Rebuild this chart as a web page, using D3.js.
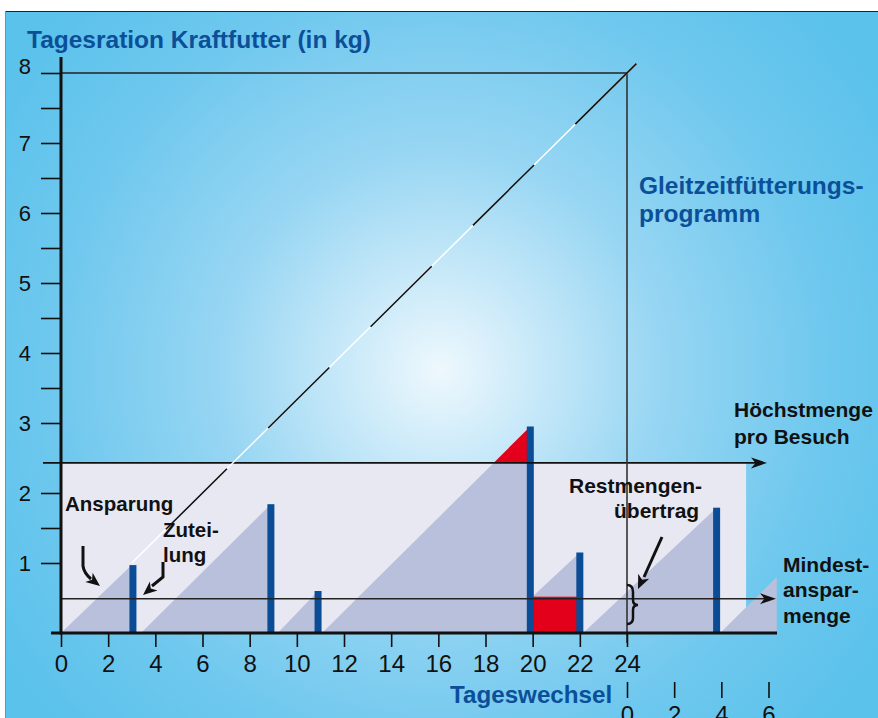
<!DOCTYPE html>
<html>
<head>
<meta charset="utf-8">
<script src="https://cdn.jsdelivr.net/npm/d3@7.9.0/dist/d3.min.js"></script>
<style>
  body { margin: 0; background: #fff; }
  svg { display: block; font-family: "Liberation Sans", Arial, sans-serif; }
</style>
</head>
<body>
<svg id="chart" width="878" height="718"></svg>
<script>
// hours of the day, and the first hours of the next day
const hourTicks = [0, 2, 4, 6, 8, 10, 12, 14, 16, 18, 20, 22, 24];
const nextDayTicks = [0, 2, 4, 6];
const kgTicks = [1, 2, 3, 4, 5, 6, 7, 8];
const kgMinorTicks = [1.5, 3.5, 4.5, 5.5, 6.5, 7.5];

const dailyRation = 8;      // kg per 24 h
const maxPerVisit = 2.43;   // Höchstmenge pro Besuch
const minSaving = 0.49;     // Mindestansparmenge
const panelEnd = 29.05;     // hour where the light panel stops

// saving ramps: start hour, end hour, kg at start, kg at end
const rampStart = [0, 3.39, 9.19, 11.07, 20.0, 22.14, 27.95];
const rampEnd   = [3.0, 8.9, 10.9, 19.9, 22.0, 27.8, 30.35];
const rampFrom  = [0, 0, 0, 0, 0.52, 0, 0];
const rampTo    = [0.97, 1.84, 0.6, 2.95, 1.15, 1.79, 0.8];

// visits at the feeder: hour and kg given out
const visitHour = [3.05, 8.9, 10.9, 19.9, 22.0, 27.8];
const visitKg   = [0.97, 1.84, 0.6, 2.95, 1.15, 1.79];

// carried over remainder after the 20 h visit
const carryStart = 20.0, carryEnd = 22.0, carryKg = 0.52;

const svg = d3.select('#chart');
const x = d3.scaleLinear().domain([0, 24]).range([61, 627]);
const y = d3.scaleLinear().domain([0, 8]).range([633, 73]);

const blue = '#0b4f98';
const barBlue = '#0a4d96';
const red = '#e2001a';

// background
const defs = svg.append('defs');
const grad = defs.append('radialGradient')
  .attr('id', 'bg')
  .attr('gradientUnits', 'userSpaceOnUse')
  .attr('cx', 440).attr('cy', 370).attr('r', 520);
grad.append('stop').attr('offset', 0).attr('stop-color', '#eef8fd');
grad.append('stop').attr('offset', 0.42).attr('stop-color', '#98d6f3');
grad.append('stop').attr('offset', 0.74).attr('stop-color', '#6fc8ee');
grad.append('stop').attr('offset', 1).attr('stop-color', '#5bc2eb');

svg.append('rect').attr('x', 5).attr('y', 11).attr('width', 873).attr('height', 707)
  .attr('fill', 'url(#bg)');
svg.append('line').attr('x1', 5).attr('x2', 878).attr('y1', 11.5).attr('y2', 11.5)
  .attr('stroke', '#222').attr('stroke-width', 1);
svg.append('line').attr('x1', 5.5).attr('x2', 5.5).attr('y1', 11).attr('y2', 718)
  .attr('stroke', '#8a8a8a').attr('stroke-width', 1);

// light panel up to the max amount per visit
svg.append('rect')
  .attr('x', x(0)).attr('y', y(maxPerVisit))
  .attr('width', x(panelEnd) - x(0)).attr('height', y(0) - y(maxPerVisit))
  .attr('fill', '#e8e8f3');

// saving ramps
const ramps = rampStart.map((s, i) => ({ s, e: rampEnd[i], from: rampFrom[i], to: rampTo[i] }));
svg.selectAll('path.ramp')
  .data(ramps)
  .join('path')
  .attr('class', 'ramp')
  .attr('d', (d) => `M${x(d.s)},${y(d.from)}L${x(d.e)},${y(d.to)}L${x(d.e)},${y(d.from)}Z`)
  .attr('fill', '#b8c0dc');

// part of a ramp above the max amount -> red
ramps.filter((d) => d.to > maxPerVisit).forEach((d) => {
  const tCross = d.s + (maxPerVisit - d.from) / (d.to - d.from) * (d.e - d.s);
  svg.append('path')
    .attr('d', `M${x(tCross)},${y(maxPerVisit)}L${x(d.e)},${y(d.to)}L${x(d.e)},${y(maxPerVisit)}Z`)
    .attr('fill', red);
});

// carried over amount
svg.append('rect')
  .attr('x', x(carryStart)).attr('y', y(carryKg))
  .attr('width', x(carryEnd) - x(carryStart)).attr('height', y(0) - y(carryKg))
  .attr('fill', red);

// feed visits
svg.selectAll('rect.visit')
  .data(visitHour)
  .join('rect')
  .attr('class', 'visit')
  .attr('x', (d) => x(d) - 3.5)
  .attr('width', 7)
  .attr('y', (d, i) => y(visitKg[i]))
  .attr('height', (d, i) => y(0) - y(visitKg[i]))
  .attr('fill', barBlue);

// arrow heads
function arrowHead(tx, ty, angle, len = 15, half = 6) {
  const a = angle * Math.PI / 180;
  const ux = Math.cos(a), uy = Math.sin(a);
  const px = -uy, py = ux;
  const bx = tx - ux * len, by = ty - uy * len;
  const nx = tx - ux * len * 0.72, ny = ty - uy * len * 0.72;
  svg.append('path')
    .attr('d', `M${tx},${ty}L${bx + px * half},${by + py * half}L${nx},${ny}L${bx - px * half},${by - py * half}Z`)
    .attr('fill', '#111');
}

// max and min lines with arrows
svg.append('line')
  .attr('x1', 43).attr('x2', 760)
  .attr('y1', y(maxPerVisit)).attr('y2', y(maxPerVisit))
  .attr('stroke', '#111').attr('stroke-width', 1.6);
arrowHead(767, y(maxPerVisit), 0, 16, 5.5);
svg.append('line')
  .attr('x1', x(0)).attr('x2', 768)
  .attr('y1', y(minSaving)).attr('y2', y(minSaving))
  .attr('stroke', '#222').attr('stroke-width', 1.6);
arrowHead(776, y(minSaving), 0, 16, 5.5);

// daily ration frame
svg.append('line')
  .attr('x1', x(0)).attr('x2', x(24))
  .attr('y1', y(dailyRation)).attr('y2', y(dailyRation))
  .attr('stroke', '#222').attr('stroke-width', 1.5);
svg.append('line')
  .attr('x1', x(24)).attr('x2', x(24))
  .attr('y1', y(dailyRation)).attr('y2', 643)
  .attr('stroke', '#333').attr('stroke-width', 1.6);

// daily ration diagonal (white with black dashes)
const diag = [[24.4, 24.4 * dailyRation / 24], [3.0, 3.0 * dailyRation / 24]];
const diagLine = d3.line().x((d) => x(d[0])).y((d) => y(d[1]));
svg.append('path').attr('d', diagLine(diag))
  .attr('stroke', '#fff').attr('stroke-width', 1.5).attr('fill', 'none');
svg.append('path').attr('d', diagLine(diag))
  .attr('stroke', '#111').attr('stroke-width', 1.6).attr('fill', 'none')
  .attr('stroke-dasharray', '86 58');

// axes
svg.append('line').attr('x1', x(0)).attr('x2', x(0)).attr('y1', 57).attr('y2', y(0) + 1.5)
  .attr('stroke', '#111').attr('stroke-width', 3);
svg.append('line').attr('x1', 51).attr('x2', 777).attr('y1', y(0)).attr('y2', y(0))
  .attr('stroke', '#111').attr('stroke-width', 3);

const yAxis = d3.axisLeft(y).tickValues(kgTicks).tickSize(20).tickFormat(d3.format('d'));
const gy = svg.append('g').attr('transform', `translate(${x(0)},0)`).call(yAxis);
gy.select('.domain').remove();
gy.selectAll('.tick line').attr('stroke', '#111').attr('stroke-width', 1.6);
gy.selectAll('.tick text')
  .attr('x', -30).attr('dy', null)
  .attr('y', (d) => (d === dailyRation ? 0 : 7))
  .attr('font-size', 22).attr('fill', '#111')
  .attr('font-family', '"Liberation Sans", Arial, sans-serif');

const yMinor = d3.axisLeft(y).tickValues(kgMinorTicks).tickSize(20).tickFormat('');
const gym = svg.append('g').attr('transform', `translate(${x(0)},0)`).call(yMinor);
gym.select('.domain').remove();
gym.selectAll('.tick line').attr('stroke', '#111').attr('stroke-width', 1.6);

const xAxis = d3.axisBottom(x).tickValues(hourTicks).tickSize(14).tickFormat(d3.format('d'));
const gx = svg.append('g').attr('transform', `translate(0,${y(0)})`).call(xAxis);
gx.select('.domain').remove();
gx.selectAll('.tick line').attr('stroke', '#111').attr('stroke-width', 1.6);
gx.selectAll('.tick text')
  .attr('y', 39).attr('dy', null)
  .attr('font-size', 24).attr('fill', '#111')
  .attr('font-family', '"Liberation Sans", Arial, sans-serif');

// next day axis
const xNext = d3.scaleLinear().domain([0, 6]).range([x(24), x(30)]);
const xAxisNext = d3.axisBottom(xNext).tickValues(nextDayTicks).tickSize(16).tickFormat(d3.format('d'));
const gn = svg.append('g').attr('transform', 'translate(0,682)').call(xAxisNext);
gn.select('.domain').remove();
gn.selectAll('.tick line').attr('stroke', '#111').attr('stroke-width', 1.6);
gn.selectAll('.tick text')
  .attr('y', 41).attr('dy', null)
  .attr('font-size', 24).attr('fill', '#111')
  .attr('font-family', '"Liberation Sans", Arial, sans-serif');

// texts
function label(txt, tx, ty, size, color) {
  svg.append('text').attr('x', tx).attr('y', ty)
    .attr('font-size', size).attr('font-weight', 'bold').attr('fill', color)
    .text(txt);
}
label('Tagesration Kraftfutter (in kg)', 27, 48, 24.5, blue);
label('Gleitzeitfütterungs-', 639, 194, 24.5, blue);
label('programm', 639, 222, 24.5, blue);
label('Tageswechsel', 450, 703, 24.2, blue);

label('Höchstmenge', 734, 417, 21, '#111');
label('pro Besuch', 734, 444, 21, '#111');
label('Restmengen-', 569, 493, 21, '#111');
label('übertrag', 614, 518, 21, '#111');
label('Mindest-', 783, 572, 21, '#111');
label('anspar-', 783, 597, 21, '#111');
label('menge', 783, 623, 21, '#111');
label('Ansparung', 65, 511, 20.5, '#111');
label('Zutei-', 163, 537, 20.5, '#111');
label('lung', 163, 562, 20.5, '#111');

// pointer arrows
svg.append('path').attr('d', 'M83,546L83,566Q84,573 91,579')
  .attr('stroke', '#111').attr('stroke-width', 3).attr('fill', 'none');
arrowHead(100, 586, 38, 14, 6);
svg.append('path').attr('d', 'M163,562L163,577L152,586')
  .attr('stroke', '#111').attr('stroke-width', 3).attr('fill', 'none');
arrowHead(143, 595, 140, 14, 6);
svg.append('path').attr('d', 'M662,537L644,577')
  .attr('stroke', '#111').attr('stroke-width', 3).attr('fill', 'none');
arrowHead(638, 589, 114, 14, 6);

// brace for the carried over amount
svg.append('path')
  .attr('d', 'M627,585Q633,585 633,592L633,600Q633,605 638,605Q633,605 633,610L633,618Q633,624 627,624')
  .attr('stroke', '#111').attr('stroke-width', 2.5).attr('fill', 'none');
</script>
</body>
</html>
